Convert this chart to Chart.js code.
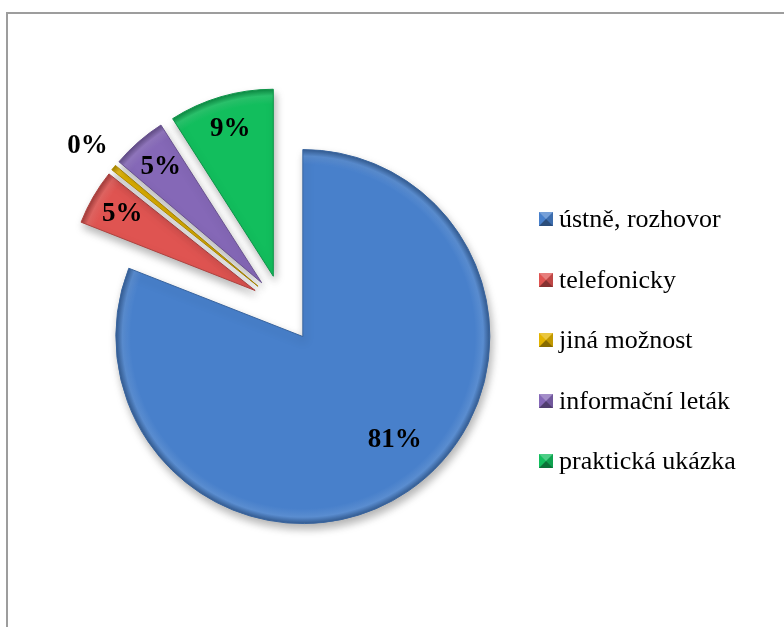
<!DOCTYPE html>
<html>
<head>
<meta charset="utf-8">
<script src="https://cdn.jsdelivr.net/npm/chart.js@4"></script>
<style>
  body { margin: 0; background: #fff; }
  #wrap { position: relative; width: 784px; height: 627px; overflow: hidden; background: #fff; }
  #frame { position: absolute; left: 6px; top: 12px; width: 820px; height: 660px; border: 2px solid #9d9d9d; box-sizing: border-box; }
  #pie { position: absolute; left: 0; top: 0; }
  #legend { position: absolute; left: 539px; top: 189px; font-family: "Liberation Serif", "Times New Roman", serif; font-size: 26px; color: #000; }
  #legend .row { height: 60.5px; display: flex; align-items: center; white-space: nowrap; }
  #legend .mk { width: 0; height: 0; border-style: solid; border-width: 7px; margin-right: 6px; }
</style>
</head>
<body>
<div id="wrap">
  <div id="frame"></div>
  <canvas id="pie" width="784" height="627"></canvas>
  <div id="legend"></div>
</div>
<script>
const labels = ['ústně, rozhovor', 'telefonicky', 'jiná možnost', 'informační leták', 'praktická ukázka'];
const counts = [170, 10, 1, 10, 19];
const colors = ['#4880CB', '#DF5451', '#E3B300', '#8568B7', '#12BE5D'];

// how far each slice is pulled out of the pie (px)
const explode = [37, 31, 31, 31, 31];
const R = 187;

const total = counts.reduce((a, b) => a + b, 0);
const pct = v => Math.round(v / total * 100) + '%';

function shade(hex, amt) {
    // amt > 0 mixes toward white, < 0 toward black
    const n = parseInt(hex.slice(1), 16);
    const ch = [(n >> 16) & 255, (n >> 8) & 255, n & 255].map(c =>
        Math.round(amt > 0 ? c + (255 - c) * amt : c * (1 + amt)));
    return 'rgb(' + ch.join(',') + ')';
}

function midAngle(i) {
    let before = 0;
    for (let k = 0; k < i; k++) before += counts[k];
    return -Math.PI / 2 + (before + counts[i] / 2) / total * Math.PI * 2;
}

// radial fill so the rim of every slice gets the soft bevel look
function sliceFill(ctx) {
    const chart = ctx.chart, area = chart.chartArea, i = ctx.dataIndex;
    if (!area) return colors[i];
    const a = midAngle(i);
    const cx = (area.left + area.right) / 2 + Math.cos(a) * explode[i];
    const cy = (area.top + area.bottom) / 2 + Math.sin(a) * explode[i];
    const g = chart.ctx.createRadialGradient(cx, cy, 0, cx, cy, R);
    g.addColorStop(0, colors[i]);
    g.addColorStop(0.92, colors[i]);
    g.addColorStop(0.965, shade(colors[i], 0.1));
    g.addColorStop(1, shade(colors[i], -0.28));
    return g;
}

const explodePlugin = {
    id: 'explode',
    beforeDatasetsDraw(chart) {
        const c = chart.ctx;
        c.save();
        c.shadowColor = 'rgba(0,0,0,0.3)';
        c.shadowBlur = 9;
        c.shadowOffsetX = 2;
        c.shadowOffsetY = 5;
        chart.getDatasetMeta(0).data.forEach((arc, i) => {
            const a = (arc.startAngle + arc.endAngle) / 2;
            arc.$home = [arc.x, arc.y];
            arc.x += Math.cos(a) * explode[i];
            arc.y += Math.sin(a) * explode[i];
        });
    },
    afterDatasetsDraw(chart) {
        const c = chart.ctx;
        c.restore();
        const arcs = chart.getDatasetMeta(0).data;
        arcs.forEach(arc => { arc.x = arc.$home[0]; arc.y = arc.$home[1]; });

        // percentage labels
        c.save();
        c.font = 'bold 27px "Liberation Serif", "Times New Roman", serif';
        c.fillStyle = '#000';
        c.textAlign = 'center';
        c.textBaseline = 'middle';
        arcs.forEach((arc, i) => {
            let a = (arc.startAngle + arc.endAngle) / 2;
            const share = counts[i] / total;
            let f = 0.82;
            if (share >= 0.5) { f = 0.74; a -= 0.1; }
            else if (share < 0.01) f = 1.18;
            const d = explode[i] + f * arc.outerRadius;
            c.fillText(pct(counts[i]), arc.x + Math.cos(a) * d, arc.y + Math.sin(a) * d);
        });
        c.restore();
    }
};

new Chart(document.getElementById('pie'), {
    type: 'pie',
    data: {
        labels: labels,
        datasets: [{
            data: counts,
            backgroundColor: sliceFill,
            borderColor: colors.map(c => shade(c, -0.22)),
            borderWidth: 1,
            radius: R,
            clip: false
        }]
    },
    options: {
        responsive: false,
        animation: false,
        layout: { padding: { left: 0, top: 0, right: 220, bottom: 15 } },
        plugins: {
            legend: { display: false },
            tooltip: { enabled: false }
        }
    },
    plugins: [explodePlugin]
});

// legend with little pyramid markers
const legend = document.getElementById('legend');
labels.forEach((name, i) => {
    const row = document.createElement('div');
    row.className = 'row';
    const mk = document.createElement('span');
    mk.className = 'mk';
    mk.style.borderColor = [shade(colors[i], 0.25), shade(colors[i], -0.15), shade(colors[i], -0.4), colors[i]].join(' ');
    row.appendChild(mk);
    row.appendChild(document.createTextNode(name));
    legend.appendChild(row);
});
</script>
</body>
</html>
